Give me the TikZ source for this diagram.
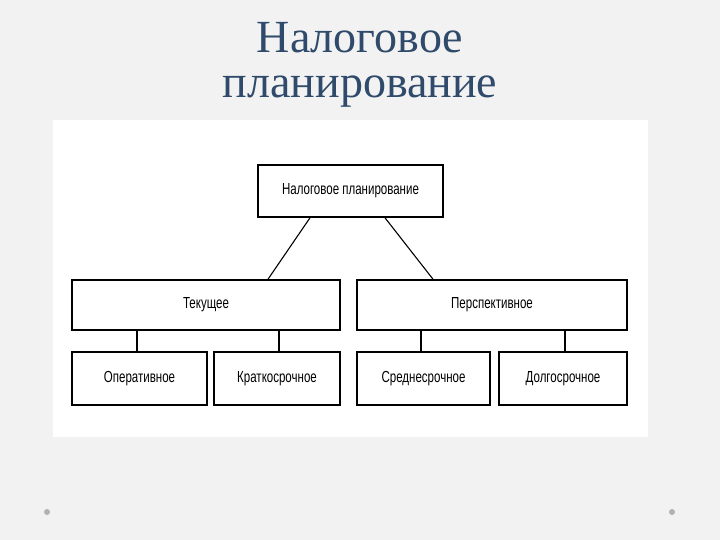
\documentclass[tikz,border=0pt]{standalone}
\usepackage{fontspec}
\setmainfont{Liberation Serif}
\newfontfamily\boxfont{Liberation Sans}
\definecolor{titleblue}{HTML}{2F4A6A}
\begin{document}
\begin{tikzpicture}[x=1pt,y=-1pt,
  bx/.style={draw,line width=1.6pt,fill=white,inner sep=0pt,font=\boxfont\fontsize{16}{18}\selectfont},
  ln/.style={line width=1.1pt},
  tt/.style={font=\fontsize{46}{50}\selectfont,text=titleblue}]
\useasboundingbox (0,0) rectangle (720,540);
\fill[gray!10!white] (0,0) rectangle (720,540);
\fill[white] (53,120) rectangle (648,437);
\node[tt] (t1) at (360,38) {Налоговое};
\node[tt] (t2) at (360,92) {планирование};
\node[bx,minimum width=185,minimum height=52] (top) at (350.5,191) {\scalebox{0.72}[1]{Налоговое планирование}};
\node[bx,minimum width=268,minimum height=50] (cur) at (206,305) {\scalebox{0.72}[1]{Текущее}};
\node[bx,minimum width=270,minimum height=50] (per) at (492,305) {\scalebox{0.72}[1]{Перспективное}};
\node[bx,minimum width=135,minimum height=53] (b1) at (139.5,378.5) {\scalebox{0.72}[1]{Оперативное}};
\node[bx,minimum width=126,minimum height=53] (b2) at (277,378.5) {\scalebox{0.72}[1]{Краткосрочное}};
\node[bx,minimum width=133,minimum height=53] (b3) at (423.5,378.5) {\scalebox{0.72}[1]{Среднесрочное}};
\node[bx,minimum width=128,minimum height=53] (b4) at (563,378.5) {\scalebox{0.72}[1]{Долгосрочное}};
\draw[ln] (top.south -| 310,0) -- (cur.north -| 268,0);
\draw[ln] (top.south -| 385,0) -- (per.north -| 433,0);
\draw[ln] (cur.south -| 137,0) -- (b1.north -| 137,0);
\draw[ln] (cur.south -| 279,0) -- (b2.north -| 279,0);
\draw[ln] (per.south -| 421,0) -- (b3.north -| 421,0);
\draw[ln] (per.south -| 565,0) -- (b4.north -| 565,0);
\fill[gray!60] (47,512) circle (3);
\fill[gray!60] (672,512) circle (3);
\end{tikzpicture}
\end{document}
